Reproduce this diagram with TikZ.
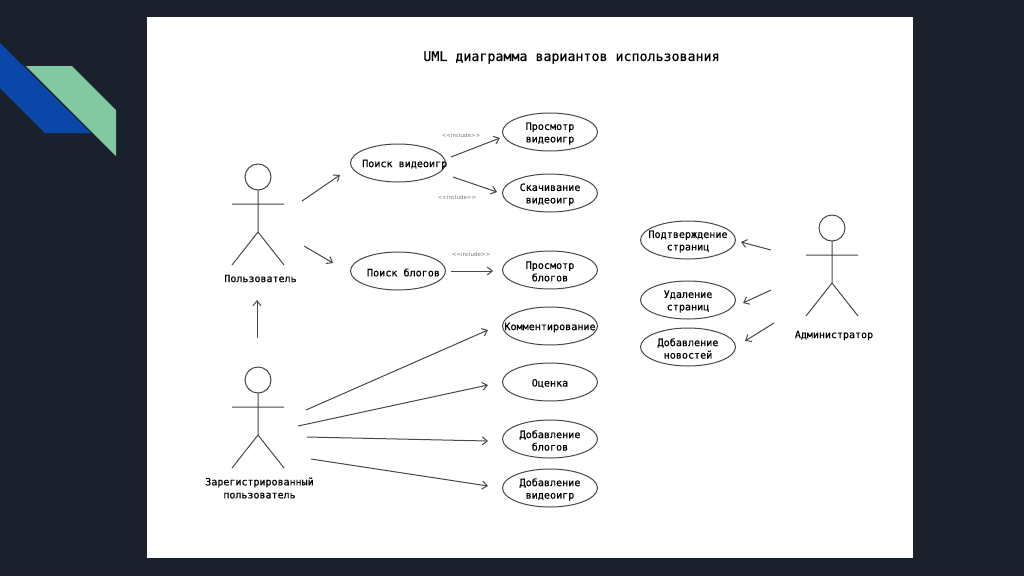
\documentclass[tikz,border=0pt]{standalone}
\usepackage{fontspec}
\setmainfont{DejaVu Sans Mono}
\newfontfamily\diagfont[RawFeature={embolden=0.5}]{DejaVu Sans Mono}
\newfontfamily\inclfont{DejaVu Sans}
\usetikzlibrary{shapes.geometric,arrows.meta,positioning}
\definecolor{slatebg}{HTML}{1A212D}
\definecolor{ribbonblue}{HTML}{0B47A8}
\definecolor{ribbongreen}{HTML}{82C8A0}
\definecolor{inkdark}{HTML}{484848}
\definecolor{inkgray}{HTML}{777777}
\tikzset{
  uc/.style={ellipse,draw=inkdark,line width=1pt,fill=white,inner sep=0pt,
             minimum width=95pt,minimum height=38pt},
  uctxt/.style={font=\diagfont\fontsize{10.1}{12.5}\selectfont,align=center,text=black,inner sep=0pt,yshift=-1.5pt},
  acttxt/.style={font=\diagfont\fontsize{10}{13}\selectfont,align=center,text=black,inner sep=0pt},
  titletxt/.style={font=\diagfont\fontsize{13.3}{16}\selectfont,text=black,inner sep=0pt},
  incl/.style={font=\inclfont\fontsize{5.5}{6}\selectfont,text=inkgray,inner sep=0pt},
  arr/.style={-{Straight Barb[length=5pt,width=8pt]},line width=1pt,color=inkdark},
  actor/.pic={
    \draw[line width=1pt,color=inkdark] (0,0) circle (13)
      (0,13) -- (0,55)
      (-26,27) -- (26,27)
      (-26,88) -- (0,55) -- (26,88);
  },
}
\begin{document}
\begin{tikzpicture}[x=1pt,y=-1pt]
  \fill[slatebg] (0,0) rectangle (1024,576);
  \useasboundingbox (0,0) rectangle (1024,576);
  \fill[white] (147,17) rectangle (913,558);
  \fill[ribbonblue] (0,43) -- (91,133) -- (45,133) -- (0,88) -- cycle;
  \fill[ribbongreen] (26,66) -- (72,66) -- (116,110) -- (116,156) -- cycle;

  \node[titletxt] (title) at (571.5,57.5) {UML диаграмма вариантов использования};

  \pic (user)  at (258,177) {actor};
  \pic (reg)   at (258,380) {actor};
  \pic (admin) at (832,228) {actor};
  \node[acttxt] (userlbl)  at (260.5,278.5) {Пользователь};
  \node[acttxt] (reglbl)   at (259.5,488) {Зарегистрированный\\пользователь};
  \node[acttxt] (adminlbl) at (834,335.5) {Администратор};

  \node[uc,label={[uctxt,xshift=6.7pt]center:Поиск видеоигр}] (searchgames) at (398,163) {};
  \node[uc,label={[uctxt,xshift=5.5pt]center:Поиск блогов}]   (searchblogs) at (398,271) {};
  \node[uc,label={[uctxt]center:Просмотр\\видеоигр}]   (viewgames) at (550,132) {};
  \node[uc,label={[uctxt]center:Скачивание\\видеоигр}] (download)  at (550,193) {};
  \node[uc,label={[uctxt]center:Просмотр\\блогов}]     (viewblogs) at (550,270) {};
  \node[uc,label={[uctxt]center:Комментирование}]      (comment)   at (550,326) {};
  \node[uc,label={[uctxt]center:Оценка}]               (rating)    at (550,382) {};
  \node[uc,label={[uctxt]center:Добавление\\блогов}]   (addblogs)  at (550,439) {};
  \node[uc,label={[uctxt]center:Добавление\\видеоигр}] (addgames)  at (550,488) {};
  \node[uc,label={[uctxt]center:Подтверждение\\страниц}] (confirm) at (688,240) {};
  \node[uc,label={[uctxt]center:Удаление\\страниц}]    (delete)    at (688,300) {};
  \node[uc,label={[uctxt]center:Добавление\\новостей}] (addnews)   at (688,347) {};

  \node[incl] (inclview)  at (461,135) {<{}<include>{}>};
  \node[incl] (incldown)  at (457,197) {<{}<include>{}>};
  \node[incl] (inclblogs) at (471,254) {<{}<include>{}>};

  \coordinate (u1a) at (302,201); \coordinate (u1b) at (340,175);
  \coordinate (u2a) at (304,246); \coordinate (u2b) at (333,263);
  \coordinate (r0a) at (257,338); \coordinate (r0b) at (257,300);
  \coordinate (s1a) at (451,157); \coordinate (s1b) at (500,138);
  \coordinate (s2a) at (453,177); \coordinate (s2b) at (497,192);
  \coordinate (b1a) at (451,271); \coordinate (b1b) at (493,271);
  \coordinate (r1a) at (306,410); \coordinate (r1b) at (488,330);
  \coordinate (r2a) at (298,426); \coordinate (r2b) at (488,385);
  \coordinate (r3a) at (307,437); \coordinate (r3b) at (488,441);
  \coordinate (r4a) at (311,459); \coordinate (r4b) at (488,486);
  \coordinate (a1a) at (771,250); \coordinate (a1b) at (741,242);
  \coordinate (a2a) at (771,290); \coordinate (a2b) at (743,303);
  \coordinate (a3a) at (774,323); \coordinate (a3b) at (745,341);

  \draw[arr] (u1a) -- (u1b);
  \draw[arr] (u2a) -- (u2b);
  \draw[arr] (r0a) -- (r0b);
  \draw[arr] (s1a) -- (s1b);
  \draw[arr] (s2a) -- (s2b);
  \draw[arr] (b1a) -- (b1b);
  \draw[arr] (r1a) -- (r1b);
  \draw[arr] (r2a) -- (r2b);
  \draw[arr] (r3a) -- (r3b);
  \draw[arr] (r4a) -- (r4b);
  \draw[arr] (a1a) -- (a1b);
  \draw[arr] (a2a) -- (a2b);
  \draw[arr] (a3a) -- (a3b);
\end{tikzpicture}
\end{document}
